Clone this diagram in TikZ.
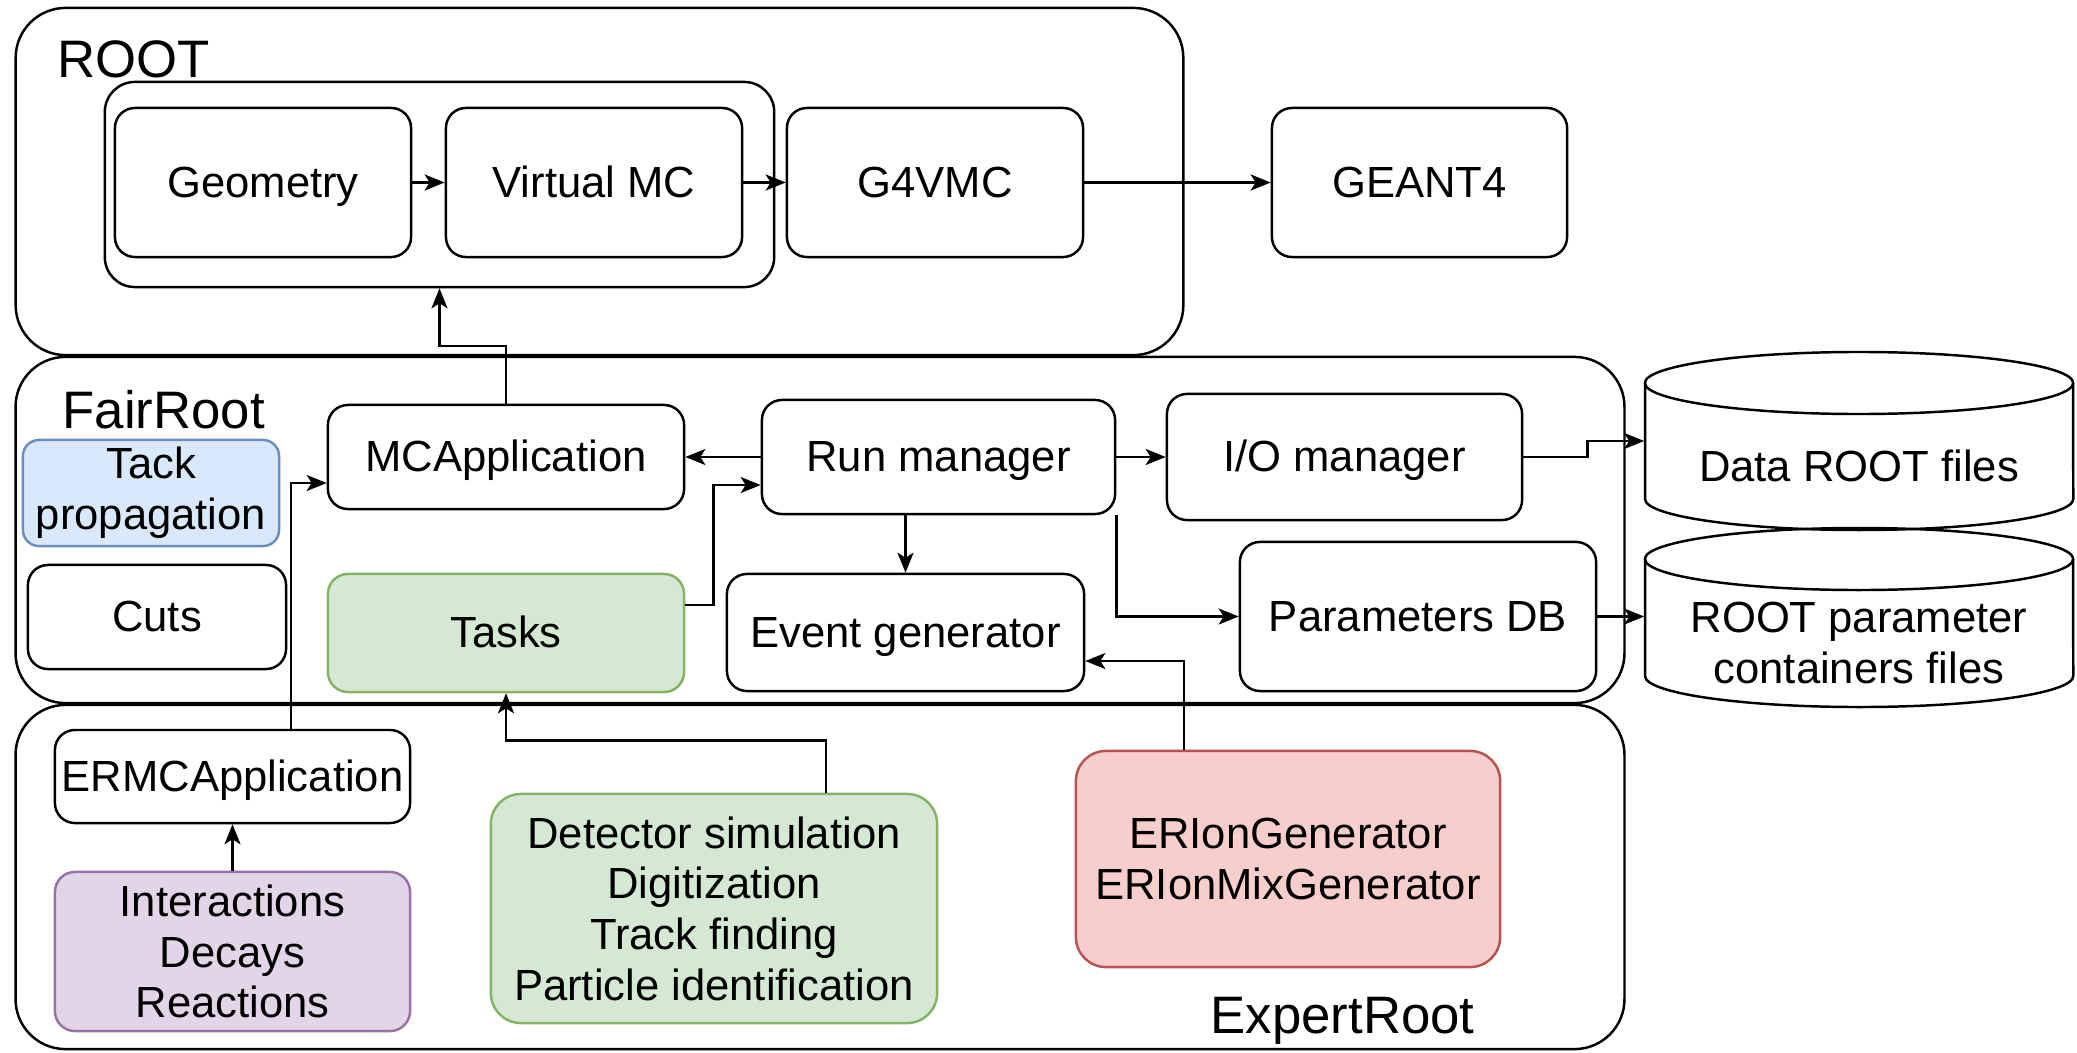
\documentclass[tikz,border=0pt]{standalone}
\usepackage{fontspec}
\setmainfont{Liberation Sans}
\usetikzlibrary{arrows.meta}
\definecolor{bluefill}{HTML}{DAE8FC}
\definecolor{blueline}{HTML}{6C8EBF}
\definecolor{greenfill}{HTML}{D5E8D4}
\definecolor{greenline}{HTML}{82B366}
\definecolor{purplefill}{HTML}{E1D5E7}
\definecolor{purpleline}{HTML}{9673A6}
\definecolor{redfill}{HTML}{F8CECC}
\definecolor{redline}{HTML}{B85450}
\tikzset{
	box/.style={draw, rounded corners=0.2cm, line width=0.7pt, inner sep=0pt, align=center, font=\fontsize{12.4}{14.4}\selectfont},
	onebox/.style={box, text height=0.40cm, text depth=0.11cm},
	frame/.style={draw, rounded corners=0.5cm, line width=0.7pt, inner sep=0pt},
	lbl/.style={anchor=base west, inner sep=0pt, font=\fontsize{15}{18}\selectfont},
	dbtext/.style={inner sep=0pt, align=center, minimum width=4.28cm, font=\fontsize{12.4}{14.4}\selectfont},
	arr/.style={-{Stealth[length=0.2cm,width=0.16cm,inset=0.05cm]}, line width=0.7pt},
}

\begin{document}
\begin{tikzpicture}[x=0.01cm, y=-0.01cm]
	\fill[white] (0,0) rectangle (2077,1052);
	\useasboundingbox (0,0) rectangle (2077,1052);

	% the three layers
	\node[frame, minimum width=11.67cm, minimum height=3.47cm] (rootbox) at (599.5,181.5) {};
	\node[frame, minimum width=16.08cm, minimum height=3.46cm] (fairbox) at (820,530) {};
	\node[frame, minimum width=16.08cm, minimum height=3.44cm] (expertbox) at (820,877) {};
	\node[lbl] (rootlbl) at (57,78) {ROOT};
	\node[lbl] (fairlbl) at (62,428) {FairRoot};
	\node[lbl] (expertlbl) at (1210,1033) {ExpertRoot};

	% ROOT
	\node[box, rounded corners=0.3cm, minimum width=6.69cm, minimum height=2.05cm] (vmcgroup) at (439.5,184.5) {};
	\node[onebox, minimum width=2.96cm, minimum height=1.49cm] (geometry) at (263,182.5) {Geometry};
	\node[onebox, minimum width=2.96cm, minimum height=1.49cm] (vmc) at (594,182.5) {Virtual MC};
	\node[onebox, minimum width=2.96cm, minimum height=1.49cm] (g4vmc) at (935,182.5) {G4VMC};
	\node[onebox, minimum width=2.95cm, minimum height=1.49cm] (geant) at (1419.5,182.5) {GEANT4};

	% FairRoot
	\node[box, fill=bluefill, draw=blueline, rounded corners=0.16cm, minimum width=2.56cm, minimum height=1.06cm] (tackprop) at (151,493) {Tack\\propagation};
	\node[onebox, minimum width=2.58cm, minimum height=1.04cm] (cuts) at (157,617) {Cuts};
	\node[onebox, minimum width=3.56cm, minimum height=1.04cm] (mcapp) at (506,457) {MCApplication};
	\node[onebox, minimum width=3.53cm, minimum height=1.14cm] (runmgr) at (938.5,457) {Run manager};
	\node[onebox, minimum width=3.55cm, minimum height=1.26cm] (iomgr) at (1344.5,457) {I/O manager};
	\node[onebox, fill=greenfill, draw=greenline, minimum width=3.56cm, minimum height=1.18cm] (tasks) at (506,633) {Tasks};
	\node[onebox, minimum width=3.57cm, minimum height=1.17cm] (evgen) at (905.5,632.5) {Event generator};
	\node[onebox, minimum width=3.56cm, minimum height=1.49cm] (pardb) at (1418,616.5) {Parameters DB};

	% files
	\draw[line width=0.7pt] (1859,383) ellipse [x radius=2.14cm, y radius=0.31cm];
	\draw[line width=0.7pt] (1645,383) -- (1645,499) arc[start angle=180, end angle=360, x radius=2.14cm, y radius=0.31cm] -- (2073,383);
	\draw[line width=0.7pt] (1859,559) ellipse [x radius=2.14cm, y radius=0.31cm];
	\draw[line width=0.7pt] (1645,559) -- (1645,676) arc[start angle=180, end angle=360, x radius=2.14cm, y radius=0.31cm] -- (2073,559);
	\node[dbtext] (dbdata) at (1859,466) {Data ROOT files};
	\node[dbtext] (dbpar) at (1859,643) {ROOT parameter\\containers files};

	% ExpertRoot
	\node[onebox, minimum width=3.55cm, minimum height=0.93cm] (ermcapp) at (232.5,776.5) {ERMCApplication};
	\node[box, fill=purplefill, draw=purpleline, minimum width=3.55cm, minimum height=1.59cm] (interact) at (232.5,951.5) {Interactions\\Decays\\Reactions};
	\node[box, fill=greenfill, draw=greenline, rounded corners=0.3cm, minimum width=4.46cm, minimum height=2.29cm] (detsim) at (714,908.5) {Detector simulation\\Digitization\\Track finding\\Particle identification};
	\node[box, fill=redfill, draw=redline, rounded corners=0.3cm, minimum width=4.24cm, minimum height=2.16cm] (erion) at (1288,859) {ERIonGenerator\\ERIonMixGenerator};

	% connectors
	\draw[arr] (geometry) -- (vmc);
	\draw[arr] (vmc) -- (g4vmc);
	\draw[arr] (g4vmc) -- (geant);
	\draw[arr] (mcapp.north) -- ++(0,-58) -| (vmcgroup.south);
	\draw[arr] (runmgr.west) -- (mcapp.east);
	\draw[arr] (runmgr.east) -- (iomgr.west);
	\draw[arr] ([yshift=0.28cm]tasks.east) -- ++(28,0) |- ([yshift=-0.28cm]runmgr.west);
	\draw[arr] ([xshift=0.585cm]ermcapp.north) |- ([yshift=-0.26cm]mcapp.west);
	\draw[arr] (runmgr.south -| evgen.north) -- (evgen.north);
	\draw[arr] (runmgr.south east) |- (pardb.west);
	\draw[arr] (iomgr.east) -- ++(64,0) |- ([yshift=0.25cm]dbdata.west);
	\draw[arr] (pardb.east) -- (pardb.east -| dbpar.west);
	\draw[arr] ([xshift=-1.04cm]erion.north) |- ([yshift=-0.285cm]evgen.east);
	\draw[arr] (interact.north) -- (ermcapp.south);
	\draw[arr] ([xshift=1.12cm]detsim.north) -- ++(0,-52) -| (tasks.south);
\end{tikzpicture}
\end{document}
